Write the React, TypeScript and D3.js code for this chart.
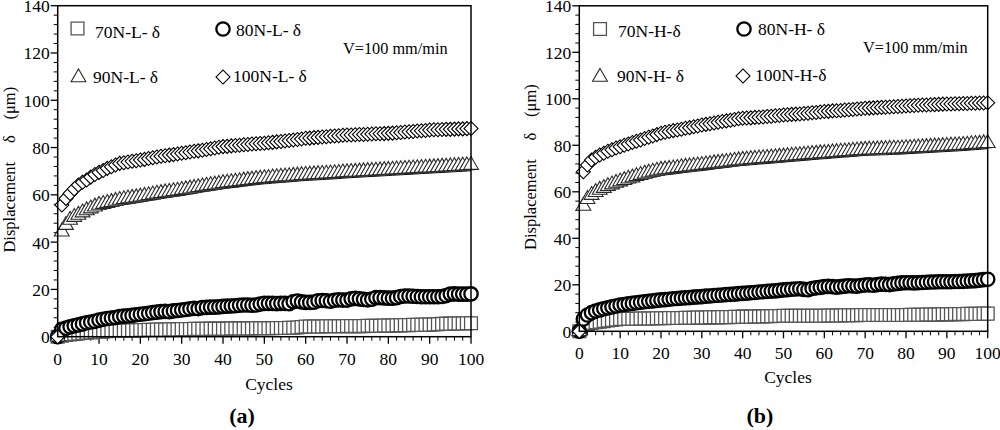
import React from 'react';
import * as d3 from 'd3';

// ---------- DATA ----------
const cycles: number[] = d3.range(0, 101);
const yTicks: number[] = [0, 20, 40, 60, 80, 100, 120, 140];
const xTicks: number[] = [0, 10, 20, 30, 40, 50, 60, 70, 80, 90, 100];

// Panel (a) — L
const a70: number[] = [0,
  0.4, 0.7, 1.0, 1.2, 1.4, 1.6, 1.7, 1.8, 2.0, 2.1,
  2.2, 2.3, 2.4, 2.5, 2.5, 2.6, 2.6, 2.7, 2.7, 2.8,
  2.8, 2.9, 2.9, 3.0, 3.0, 3.0, 3.1, 3.1, 3.1, 3.2,
  3.2, 3.2, 3.3, 3.3, 3.3, 3.3, 3.4, 3.4, 3.4, 3.4,
  3.4, 3.5, 3.5, 3.5, 3.5, 3.5, 3.5, 3.6, 3.6, 3.6,
  3.6, 3.6, 3.7, 3.7, 3.7, 3.8, 3.8, 3.9, 4.1, 4.3,
  4.3, 4.3, 4.3, 4.3, 4.4, 4.4, 4.4, 4.4, 4.4, 4.5,
  4.5, 4.5, 4.5, 4.5, 4.6, 4.6, 4.6, 4.6, 4.7, 4.7,
  4.7, 4.8, 4.8, 4.9, 4.9, 5.0, 5.0, 5.0, 5.1, 5.1,
  5.2, 5.3, 5.4, 5.5, 5.5, 5.6, 5.6, 5.6, 5.7, 5.7];
const a80: number[] = [0,
  3.1, 3.6, 4.2, 4.6, 5.0, 5.4, 5.9, 6.2, 6.5, 7.0,
  7.4, 7.7, 7.9, 8.1, 8.5, 8.7, 8.8, 9.0, 9.3, 9.5,
  9.7, 9.9, 10.2, 10.4, 10.6, 10.7, 10.6, 10.9, 11.1, 11.3,
  11.5, 11.8, 12.0, 11.9, 12.3, 12.4, 12.5, 12.5, 12.6, 12.8,
  12.9, 13.0, 13.1, 13.3, 13.4, 13.4, 13.3, 13.4, 13.8, 14.1,
  14.1, 14.1, 14.0, 14.1, 14.1, 14.0, 14.8, 15.1, 14.7, 14.5,
  14.5, 14.6, 15.2, 15.3, 15.2, 15.0, 15.4, 15.6, 15.5, 15.5,
  16.0, 16.2, 16.0, 15.8, 15.6, 15.9, 16.5, 16.5, 16.4, 16.3,
  16.3, 16.5, 17.0, 17.2, 17.2, 17.1, 17.0, 16.9, 16.9, 16.9,
  16.9, 16.9, 17.0, 17.4, 18.0, 18.1, 18.0, 18.0, 18.0, 18.1];
const a90: number[] = [0,
  44.4, 47.2, 49.4, 50.6, 51.5, 52.5, 53.4, 54.2, 55.0, 55.7,
  56.1, 56.5, 56.9, 57.4, 57.8, 58.1, 58.4, 58.7, 58.9, 59.2,
  59.5, 59.8, 60.1, 60.4, 60.7, 61.0, 61.2, 61.5, 61.7, 62.0,
  62.3, 62.6, 62.9, 63.2, 63.5, 63.8, 64.1, 64.3, 64.6, 64.9,
  65.1, 65.3, 65.5, 65.7, 66.0, 66.2, 66.4, 66.6, 66.8, 67.0,
  67.1, 67.3, 67.4, 67.6, 67.7, 67.8, 68.0, 68.1, 68.3, 68.4,
  68.5, 68.6, 68.7, 68.8, 68.9, 69.0, 69.1, 69.2, 69.4, 69.5,
  69.6, 69.7, 69.8, 69.9, 70.0, 70.1, 70.2, 70.3, 70.4, 70.5,
  70.6, 70.7, 70.8, 70.9, 71.0, 71.1, 71.2, 71.3, 71.4, 71.5,
  71.6, 71.7, 71.8, 71.9, 72.0, 72.1, 72.2, 72.3, 72.4, 72.6];
const a100: number[] = [0,
  55.7, 58.5, 60.6, 62.5, 64.2, 65.3, 66.3, 67.5, 68.6, 69.5,
  70.3, 71.2, 71.9, 72.6, 73.3, 73.6, 73.9, 74.2, 74.4, 74.7,
  75.0, 75.4, 75.7, 76.0, 76.3, 76.5, 76.8, 77.0, 77.3, 77.6,
  77.8, 78.1, 78.4, 78.6, 78.9, 79.2, 79.5, 79.8, 80.1, 80.4,
  80.5, 80.7, 80.9, 81.0, 81.2, 81.3, 81.5, 81.6, 81.7, 81.8,
  82.0, 82.2, 82.4, 82.6, 82.8, 83.0, 83.2, 83.4, 83.6, 83.9,
  84.0, 84.2, 84.3, 84.5, 84.6, 84.8, 84.9, 85.0, 85.2, 85.3,
  85.3, 85.4, 85.5, 85.5, 85.6, 85.7, 85.8, 85.8, 85.9, 86.0,
  86.1, 86.3, 86.4, 86.6, 86.7, 86.8, 87.0, 87.1, 87.2, 87.4,
  87.5, 87.5, 87.6, 87.7, 87.7, 87.8, 87.9, 87.9, 88.0, 88.1];

// Panel (b) — H
const b70: number[] = [0,
  2.7, 3.2, 3.6, 3.9, 4.1, 4.4, 4.7, 4.9, 5.1, 5.3,
  5.3, 5.4, 5.4, 5.4, 5.5, 5.5, 5.5, 5.5, 5.6, 5.6,
  5.6, 5.7, 5.7, 5.7, 5.7, 5.8, 5.8, 5.8, 5.9, 5.9,
  5.9, 6.0, 6.0, 6.0, 6.1, 6.1, 6.1, 6.2, 6.2, 6.3,
  6.3, 6.3, 6.4, 6.4, 6.4, 6.5, 6.5, 6.6, 6.6, 6.7,
  6.7, 6.7, 6.7, 6.7, 6.7, 6.7, 6.7, 6.7, 6.7, 6.7,
  6.8, 6.8, 6.8, 6.8, 6.9, 6.9, 6.9, 6.9, 7.0, 7.0,
  7.0, 7.0, 7.0, 7.0, 7.0, 7.0, 7.0, 7.0, 7.0, 7.0,
  7.1, 7.1, 7.1, 7.1, 7.2, 7.2, 7.2, 7.2, 7.3, 7.3,
  7.3, 7.4, 7.4, 7.4, 7.5, 7.5, 7.5, 7.5, 7.6, 7.6];
const b80: number[] = [0,
  5.3, 7.0, 8.0, 8.7, 9.2, 9.7, 10.1, 10.5, 10.9, 11.3,
  11.5, 11.8, 12.0, 12.3, 12.5, 12.7, 12.9, 13.1, 13.3, 13.5,
  13.6, 13.8, 14.0, 14.1, 14.3, 14.4, 14.5, 14.7, 14.8, 14.9,
  15.1, 15.2, 15.4, 15.5, 15.6, 15.8, 15.9, 16.0, 16.2, 16.3,
  16.4, 16.6, 16.7, 16.9, 17.0, 17.2, 17.3, 17.4, 17.6, 17.8,
  17.9, 18.1, 18.2, 18.3, 18.0, 17.9, 18.4, 18.7, 18.9, 19.2,
  19.3, 19.2, 19.0, 19.2, 19.4, 19.6, 19.5, 19.4, 19.7, 19.9,
  20.0, 19.8, 20.1, 20.3, 20.2, 20.1, 20.4, 20.6, 20.8, 20.9,
  20.9, 20.8, 20.9, 21.0, 21.1, 21.2, 21.2, 21.3, 21.3, 21.3,
  21.3, 21.4, 21.4, 21.5, 21.6, 21.7, 21.8, 22.0, 22.2, 22.4];
const b90: number[] = [0,
  53.9, 56.8, 58.6, 59.8, 60.8, 61.6, 62.4, 63.1, 63.8, 64.4,
  65.0, 65.6, 66.1, 66.7, 67.2, 67.7, 68.2, 68.6, 69.0, 69.4,
  69.6, 69.8, 70.0, 70.2, 70.5, 70.7, 70.9, 71.1, 71.3, 71.5,
  71.7, 71.9, 72.2, 72.4, 72.6, 72.8, 73.0, 73.3, 73.5, 73.7,
  73.8, 74.0, 74.1, 74.3, 74.4, 74.5, 74.7, 74.8, 75.0, 75.1,
  75.3, 75.4, 75.6, 75.7, 75.9, 76.0, 76.2, 76.3, 76.5, 76.6,
  76.7, 76.9, 77.0, 77.2, 77.3, 77.4, 77.6, 77.7, 77.9, 78.0,
  78.1, 78.1, 78.2, 78.3, 78.3, 78.4, 78.5, 78.5, 78.6, 78.7,
  78.8, 78.9, 79.0, 79.1, 79.2, 79.3, 79.4, 79.5, 79.6, 79.7,
  79.8, 79.9, 80.0, 80.1, 80.2, 80.4, 80.5, 80.6, 80.8, 80.9];
const b100: number[] = [0,
  68.6, 71.5, 73.7, 74.9, 75.8, 76.6, 77.4, 78.1, 78.8, 79.4,
  80.0, 80.6, 81.2, 81.7, 82.3, 82.9, 83.5, 84.0, 84.6, 85.2,
  85.6, 85.9, 86.3, 86.6, 86.9, 87.3, 87.6, 88.0, 88.3, 88.7,
  89.0, 89.3, 89.6, 89.9, 90.2, 90.5, 90.8, 91.1, 91.4, 91.6,
  91.7, 91.8, 92.0, 92.1, 92.2, 92.4, 92.5, 92.7, 92.8, 93.0,
  93.1, 93.3, 93.4, 93.5, 93.7, 93.8, 94.0, 94.1, 94.3, 94.5,
  94.6, 94.8, 94.9, 95.0, 95.2, 95.3, 95.4, 95.6, 95.7, 95.9,
  96.0, 96.1, 96.2, 96.3, 96.4, 96.5, 96.6, 96.7, 96.8, 96.9,
  97.0, 97.1, 97.2, 97.3, 97.3, 97.4, 97.5, 97.6, 97.7, 97.8,
  97.8, 97.9, 97.9, 98.0, 98.0, 98.1, 98.1, 98.2, 98.2, 98.3];

const labelsA: string[] = ['70N-L- δ', '80N-L- δ', '90N-L- δ', '100N-L- δ'];
const labelsB: string[] = ['70N-H-δ', '80N-H- δ', '90N-H- δ', '100N-H-δ'];
const speedLabel = 'V=100 mm/min';
const xTitle = 'Cycles';
const yTitleParts: string[] = ['Displacement', 'δ', '(μm)'];

// ---------- STYLE ----------
const FONT = 'Liberation Serif, Times New Roman, serif';
const TXT: React.CSSProperties = { fontFamily: FONT };
type Kind = 'square' | 'circle' | 'triangle' | 'diamond';
const kinds: Kind[] = ['square', 'circle', 'triangle', 'diamond'];

const symPath: Record<Kind, string> = {
  square: d3.symbol().type(d3.symbolSquare).size(165)() as string,
  circle: d3.symbol().type(d3.symbolCircle).size(140)() as string,
  triangle: d3.symbol().type(d3.symbolTriangle).size(95)() as string,
  diamond: d3.symbol().type(d3.symbolSquare).size(98)() as string,
};
const symStyle: Record<Kind, { stroke: string; sw: number; rot: number }> = {
  square: { stroke: '#555', sw: 1.3, rot: 0 },
  circle: { stroke: '#000', sw: 2.3, rot: 0 },
  triangle: { stroke: '#2a2a2a', sw: 1.1, rot: 0 },
  diamond: { stroke: '#000', sw: 1.1, rot: 45 },
};

function Marker({ kind, x, y }: { kind: Kind; x: number; y: number }) {
  const s = symStyle[kind];
  return (
    <path
      d={symPath[kind]}
      transform={`translate(${x},${y})${s.rot ? ` rotate(${s.rot})` : ''}`}
      fill="#fff"
      stroke={s.stroke}
      strokeWidth={s.sw}
    />
  );
}

interface PanelProps {
  x0: number; x1: number; yTop: number; yBot: number;
  series: number[][];
  labels: string[];
  legend: { mx: number[]; my: number[]; tx: number[]; ty: number[] };
  speed: { x: number; y: number };
  ylab: { x: number };
  xlab: { x: number; y: number };
  tag: { text: string; x: number; y: number };
}

function Panel(p: PanelProps) {
  const x = d3.scaleLinear().domain([0, 100]).range([p.x0, p.x1]);
  const y = d3.scaleLinear().domain([0, 140]).range([p.yBot, p.yTop]);
  const minorY = d3.range(0, 141, 4).filter((v) => v % 20 !== 0);
  const minorX = d3.range(0, 101, 2).filter((v) => v % 10 !== 0);
  const start = 6;
  const tri = d3
    .line<number>()
    .x((_, i) => x(cycles[i + start]))
    .y((v) => y(v) + 5.5)(p.series[2].slice(start));
  const yc = (p.yTop + p.yBot) / 2;

  return (
    <g>
      {/* y ticks */}
      {yTicks.map((t) => (
        <g key={'yt' + t}>
          <line x1={p.x0 - 7} x2={p.x0} y1={y(t)} y2={y(t)} stroke="#000" strokeWidth={1.3} />
          <text x={p.x0 - 8} y={y(t) + 6.5} textAnchor="end" fontSize={17.5} style={TXT}>{t}</text>
        </g>
      ))}
      {minorY.map((t) => (
        <line key={'ym' + t} x1={p.x0 - 4} x2={p.x0} y1={y(t)} y2={y(t)} stroke="#000" strokeWidth={1} />
      ))}
      {/* x ticks */}
      {xTicks.map((t) => (
        <g key={'xt' + t}>
          <line x1={x(t)} x2={x(t)} y1={p.yBot} y2={p.yBot + 7} stroke="#000" strokeWidth={1.3} />
          <text x={x(t)} y={p.yBot + 28} textAnchor="middle" fontSize={17.5} style={TXT}>{t}</text>
        </g>
      ))}
      {minorX.map((t) => (
        <line key={'xm' + t} x1={x(t)} x2={x(t)} y1={p.yBot} y2={p.yBot + 4} stroke="#000" strokeWidth={1} />
      ))}

      {/* triangle shadow line */}
      <path d={tri || ''} fill="none" stroke="#000" strokeWidth={1} />

      {/* data markers */}
      {p.series.map((vals, si) => (
        <g key={'s' + si}>
          {vals.map((v, i) => (
            <Marker key={i} kind={kinds[si]} x={x(cycles[i])} y={y(v)} />
          ))}
        </g>
      ))}

      {/* frame */}
      <rect x={p.x0} y={p.yTop} width={p.x1 - p.x0} height={p.yBot - p.yTop} fill="none" stroke="#000" strokeWidth={1.5} />

      {/* legend */}
      {kinds.map((k, i) => (
        <g key={'lg' + k}>
          <Marker kind={k} x={p.legend.mx[i]} y={p.legend.my[i]} />
          <text x={p.legend.tx[i]} y={p.legend.ty[i]} fontSize={17.5} style={TXT}>{p.labels[i]}</text>
        </g>
      ))}
      <text x={p.speed.x} y={p.speed.y} fontSize={16.3} style={TXT}>{speedLabel}</text>

      {/* y axis title */}
      <g transform={`translate(${p.ylab.x},${yc}) rotate(-90)`}>
        <text x={-36} y={0} textAnchor="middle" fontSize={16.5} style={TXT}>{yTitleParts[0]}</text>
        <text x={32} y={0} textAnchor="middle" fontSize={16.5} style={TXT}>{yTitleParts[1]}</text>
        <text x={68} y={0} textAnchor="middle" fontSize={16.5} style={TXT}>{yTitleParts[2]}</text>
      </g>

      {/* x axis title */}
      <text x={p.xlab.x} y={p.xlab.y} textAnchor="middle" fontSize={17.5} style={TXT}>{xTitle}</text>
      <text x={p.tag.x} y={p.tag.y} textAnchor="middle" fontSize={22} fontWeight="bold" style={TXT}>{p.tag.text}</text>
    </g>
  );
}

export default function App() {
  return (
    <svg
      width={1000}
      height={430}
      viewBox="0 0 1000 430"
      style={{ position: 'absolute', left: 0, top: 0, background: '#fff' }}
    >
      <rect x={0} y={0} width={1000} height={430} fill="#fff" />
      <Panel
        x0={57.7} x1={471} yTop={5.7} yBot={336.7}
        series={[a70, a80, a90, a100]}
        labels={labelsA}
        legend={{ mx: [77.5, 223, 78.5, 223], my: [28.5, 29, 77.5, 77], tx: [95, 236, 93, 233], ty: [38, 36, 83, 82] }}
        speed={{ x: 343, y: 54 }}
        ylab={{ x: 15 }}
        xlab={{ x: 269, y: 390 }}
        tag={{ text: '(a)', x: 242, y: 423 }}
      />
      <Panel
        x0={579.3} x1={987.7} yTop={5.8} yBot={331.3}
        series={[b70, b80, b90, b100]}
        labels={labelsB}
        legend={{ mx: [600, 744, 600, 743], my: [29, 29, 77, 76], tx: [618, 758, 617, 755], ty: [37, 35, 82, 81] }}
        speed={{ x: 863, y: 53 }}
        ylab={{ x: 536 }}
        xlab={{ x: 788, y: 383 }}
        tag={{ text: '(b)', x: 760, y: 423 }}
      />
    </svg>
  );
}
